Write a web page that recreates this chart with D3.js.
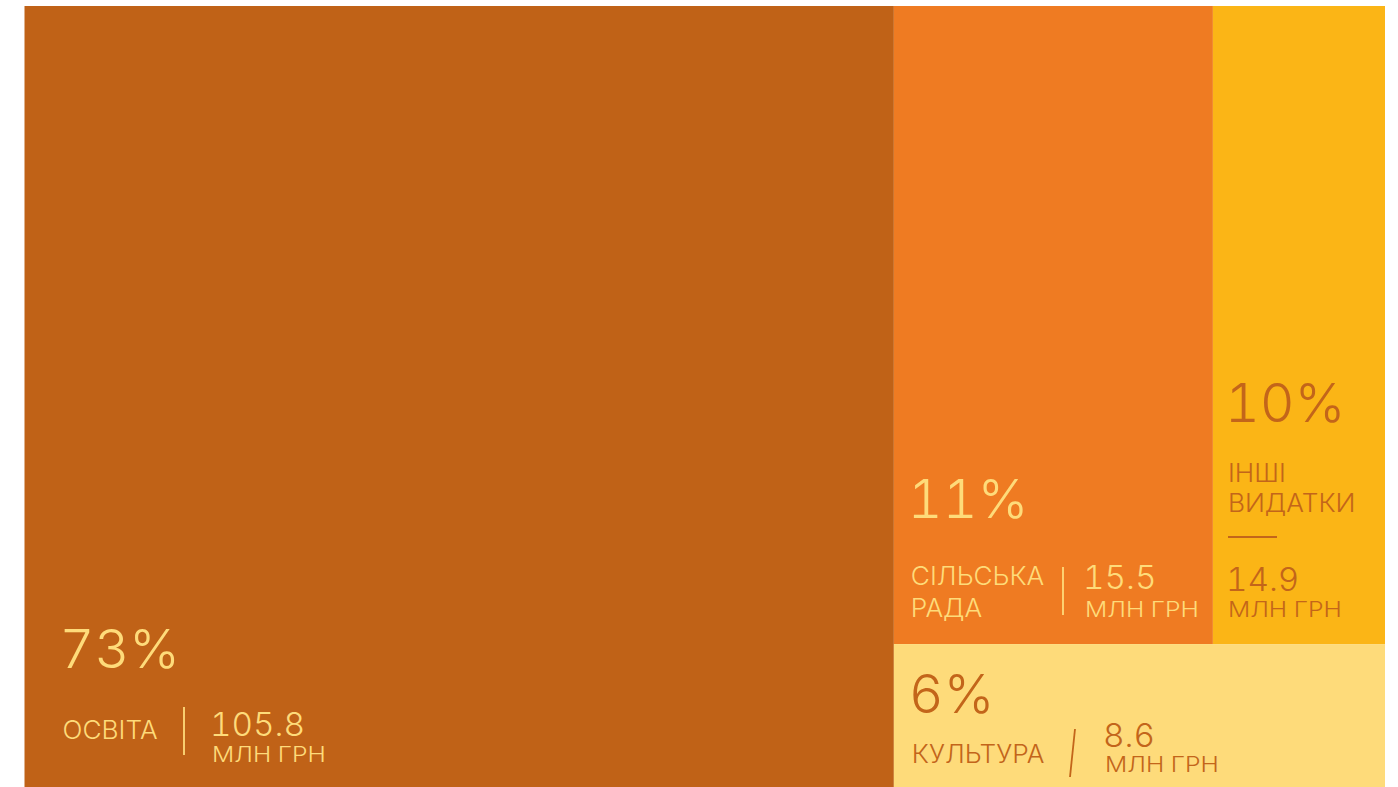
<!DOCTYPE html>
<html>
<head>
<meta charset="utf-8">
<script src="https://cdn.jsdelivr.net/npm/d3@7"></script>
<style>
  html, body { margin: 0; padding: 0; background: #ffffff; }
  svg { display: block; }
  text { font-family: Inter, "Liberation Sans", sans-serif; font-weight: 300;
         font-variant-numeric: tabular-nums; font-feature-settings: "tnum" 1; }
</style>
</head>
<body>
<svg id="chart" width="1398" height="787"></svg>
<script>
// ---- data ----
const categories = ["ОСВІТА", "СІЛЬСЬКА РАДА", "ІНШІ ВИДАТКИ", "КУЛЬТУРА"];
const shares = [73, 11, 10, 6];            // percent
const amounts = [105.8, 15.5, 14.9, 8.6];  // млн грн
const unitLabel = "МЛН ГРН";

// ---- style / layout (not data) ----
const fills = ["#C06217", "#EF7B22", "#FBB516", "#FEDB7A"];
const inks  = ["#FEDB7A", "#FEDB7A", "#C3651A", "#C3651A"];

const svg = d3.select("#chart");
const x = d3.scaleLinear().domain([0, 1]).range([24.5, 1385]);
const y = d3.scaleLinear().domain([0, 1]).range([6, 787]);

// tile splits of the layout as used in the reference
const splitX = 0.639, splitX2 = 0.8735, splitY = 0.817;
const cells = [
  {x0: 0, x1: splitX, y0: 0, y1: 1},
  {x0: splitX, x1: splitX2, y0: 0, y1: splitY},
  {x0: splitX2, x1: 1, y0: 0, y1: splitY},
  {x0: splitX, x1: 1, y0: splitY, y1: 1}
];

const nodes = categories.map((c, i) => ({
  name: c, share: shares[i], amount: amounts[i], fill: fills[i], ink: inks[i], ...cells[i]
}));

svg.selectAll("rect.cell").data(nodes).join("rect")
  .attr("class", "cell")
  .attr("x", d => x(d.x0))
  .attr("y", d => y(d.y0))
  .attr("width", d => x(d.x1) - x(d.x0))
  .attr("height", d => y(d.y1) - y(d.y0))
  .attr("fill", d => d.fill);

const fmt = d3.format(".1f");

function label(g, tx, ty, size, sx, color, str) {
  g.append("text")
    .attr("transform", `translate(${tx},${ty}) scale(${sx},1)`)
    .attr("font-size", size).attr("fill", color).text(str);
}

function draw(i, opts) {
  const d = nodes[i];
  const g = svg.append("g");
  const lx = x(d.x0) + opts.pad;
  label(g, lx - 3, opts.pctY, 54, 1.0, d.ink, d.share + "%");
  opts.lines.forEach((w, k) => label(g, lx, opts.nameY + k * opts.lh, 25, 1.05, d.ink, w));
  g.append("line")
    .attr("x1", opts.sep[0]).attr("y1", opts.sep[1])
    .attr("x2", opts.sep[2]).attr("y2", opts.sep[3])
    .attr("stroke", d.ink).attr("stroke-width", 1.8);
  const ax = opts.amtX != null ? opts.amtX : lx;
  label(g, ax - 2, opts.amtY, 32, 1.04, d.ink, fmt(d.amount));
  label(g, ax, opts.unitY, 21.5, 1.15, d.ink, unitLabel);
}

draw(0, {pad: 38, pctY: 668, lines: ["ОСВІТА"], nameY: 739, lh: 0,
  sep: [184, 707, 184, 755], amtX: 212, amtY: 736, unitY: 762});
draw(1, {pad: 17, pctY: 518, lines: ["СІЛЬСЬКА", "РАДА"], nameY: 585, lh: 32,
  sep: [1063, 567, 1063, 615], amtX: 1085, amtY: 589, unitY: 617});
draw(2, {pad: 15, pctY: 422, lines: ["ІНШІ", "ВИДАТКИ"], nameY: 482, lh: 30,
  sep: [1228, 537, 1277, 537], amtY: 591, unitY: 617});
draw(3, {pad: 18, pctY: 713, lines: ["КУЛЬТУРА"], nameY: 763, lh: 0,
  sep: [1075, 729, 1070, 777], amtX: 1105, amtY: 747, unitY: 772});
</script>
</body>
</html>
